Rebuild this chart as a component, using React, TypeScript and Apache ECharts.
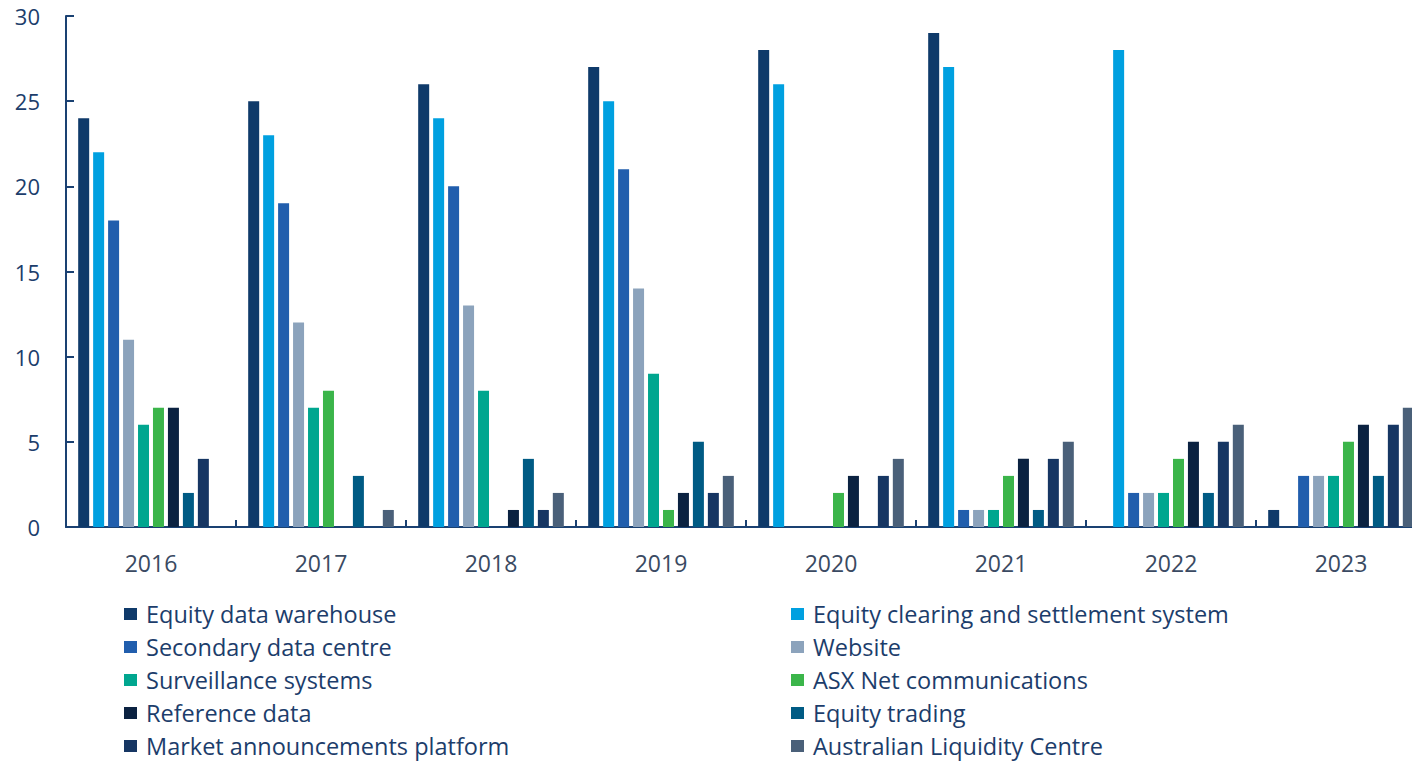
import React, { useEffect, useRef } from "react";
import * as echarts from "echarts";

const years = ["2016", "2017", "2018", "2019", "2020", "2021", "2022", "2023"];
const seriesNames = [
  "Equity data warehouse",
  "Equity clearing and settlement system",
  "Secondary data centre",
  "Website",
  "Surveillance systems",
  "ASX Net communications",
  "Reference data",
  "Equity trading",
  "Market announcements platform",
  "Australian Liquidity Centre",
];
const colors = [
  "#0f3a6a",
  "#00a0e0",
  "#215ead",
  "#8ca3bc",
  "#00a68f",
  "#3bb54a",
  "#0b2241",
  "#005b84",
  "#163663",
  "#4a6079",
];
const equityDataWarehouse = [24, 25, 26, 27, 28, 29, 0, 1];
const equityClearing = [22, 23, 24, 25, 26, 27, 28, 0];
const secondaryDataCentre = [18, 19, 20, 21, 0, 1, 2, 3];
const website = [11, 12, 13, 14, 0, 1, 2, 3];
const surveillance = [6, 7, 8, 9, 0, 1, 2, 3];
const asxNet = [7, 8, 0, 1, 2, 3, 4, 5];
const referenceData = [7, 0, 1, 2, 3, 4, 5, 6];
const equityTrading = [2, 3, 4, 5, 0, 1, 2, 3];
const marketAnnouncements = [4, 0, 1, 2, 3, 4, 5, 6];
const liquidityCentre = [0, 1, 2, 3, 4, 5, 6, 7];
const yTicks = { min: 0, max: 30, interval: 5 };

const allValues = [
  equityDataWarehouse,
  equityClearing,
  secondaryDataCentre,
  website,
  surveillance,
  asxNet,
  referenceData,
  equityTrading,
  marketAnnouncements,
  liquidityCentre,
];

const FONT = "'Open Sans', 'Noto Sans', sans-serif";
const AXIS_COLOR = "#1a4172";
const TEXT_COLOR = "#1c3d6b";

export default function App() {
  const ref = useRef<HTMLDivElement>(null);
  useEffect(() => {
    document.body.style.margin = "0";
    if (!ref.current) return;
    const chart = echarts.init(ref.current, null, { renderer: "svg" });
    const legendText = {
      fontSize: 23.5,
      color: TEXT_COLOR,
      fontFamily: FONT,
      lineHeight: 22,
      padding: [0, 0, 0, 4],
    };
    const legendBase = {
      orient: "vertical",
      top: 602,
      padding: 0,
      height: 200,
      icon: "rect",
      itemWidth: 13,
      itemHeight: 12,
      itemGap: 9,
      textStyle: legendText,
    };
    chart.setOption({
      animation: false,
      backgroundColor: "#ffffff",
      grid: { left: 66, right: 0, top: 16, bottom: 234 },
      legend: [
        {
          ...legendBase,
          left: 124,
          data: seriesNames.filter((_, i) => i % 2 === 0),
        },
        {
          ...legendBase,
          left: 791,
          data: seriesNames.filter((_, i) => i % 2 === 1),
        },
      ],
      xAxis: {
        type: "category",
        data: years,
        axisLine: { show: true, lineStyle: { color: AXIS_COLOR, width: 2 } },
        axisTick: {
          show: true,
          inside: true,
          length: 7,
          lineStyle: { color: AXIS_COLOR, width: 2 },
        },
        axisLabel: {
          fontSize: 23,
          color: "#3a4a62",
          fontFamily: FONT,
          margin: 24,
        },
      },
      yAxis: {
        type: "value",
        min: yTicks.min,
        max: yTicks.max,
        interval: yTicks.interval,
        splitLine: { show: false },
        axisLine: { show: true, lineStyle: { color: AXIS_COLOR, width: 2 } },
        axisTick: {
          show: true,
          inside: true,
          length: 8,
          lineStyle: { color: AXIS_COLOR, width: 2 },
        },
        axisLabel: {
          fontSize: 22,
          color: TEXT_COLOR,
          fontFamily: FONT,
          margin: 26,
        },
      },
      series: seriesNames.map((name, i) => ({
        name,
        type: "bar",
        data: allValues[i],
        barWidth: 11,
        barGap: "36%",
        itemStyle: { color: colors[i] },
      })),
    });
    return () => chart.dispose();
  }, []);
  return (
    <div style={{ width: 1412, height: 761, overflow: "hidden", position: "relative" }}>
      <div ref={ref} style={{ width: 1426, height: 761 }} />
    </div>
  );
}
